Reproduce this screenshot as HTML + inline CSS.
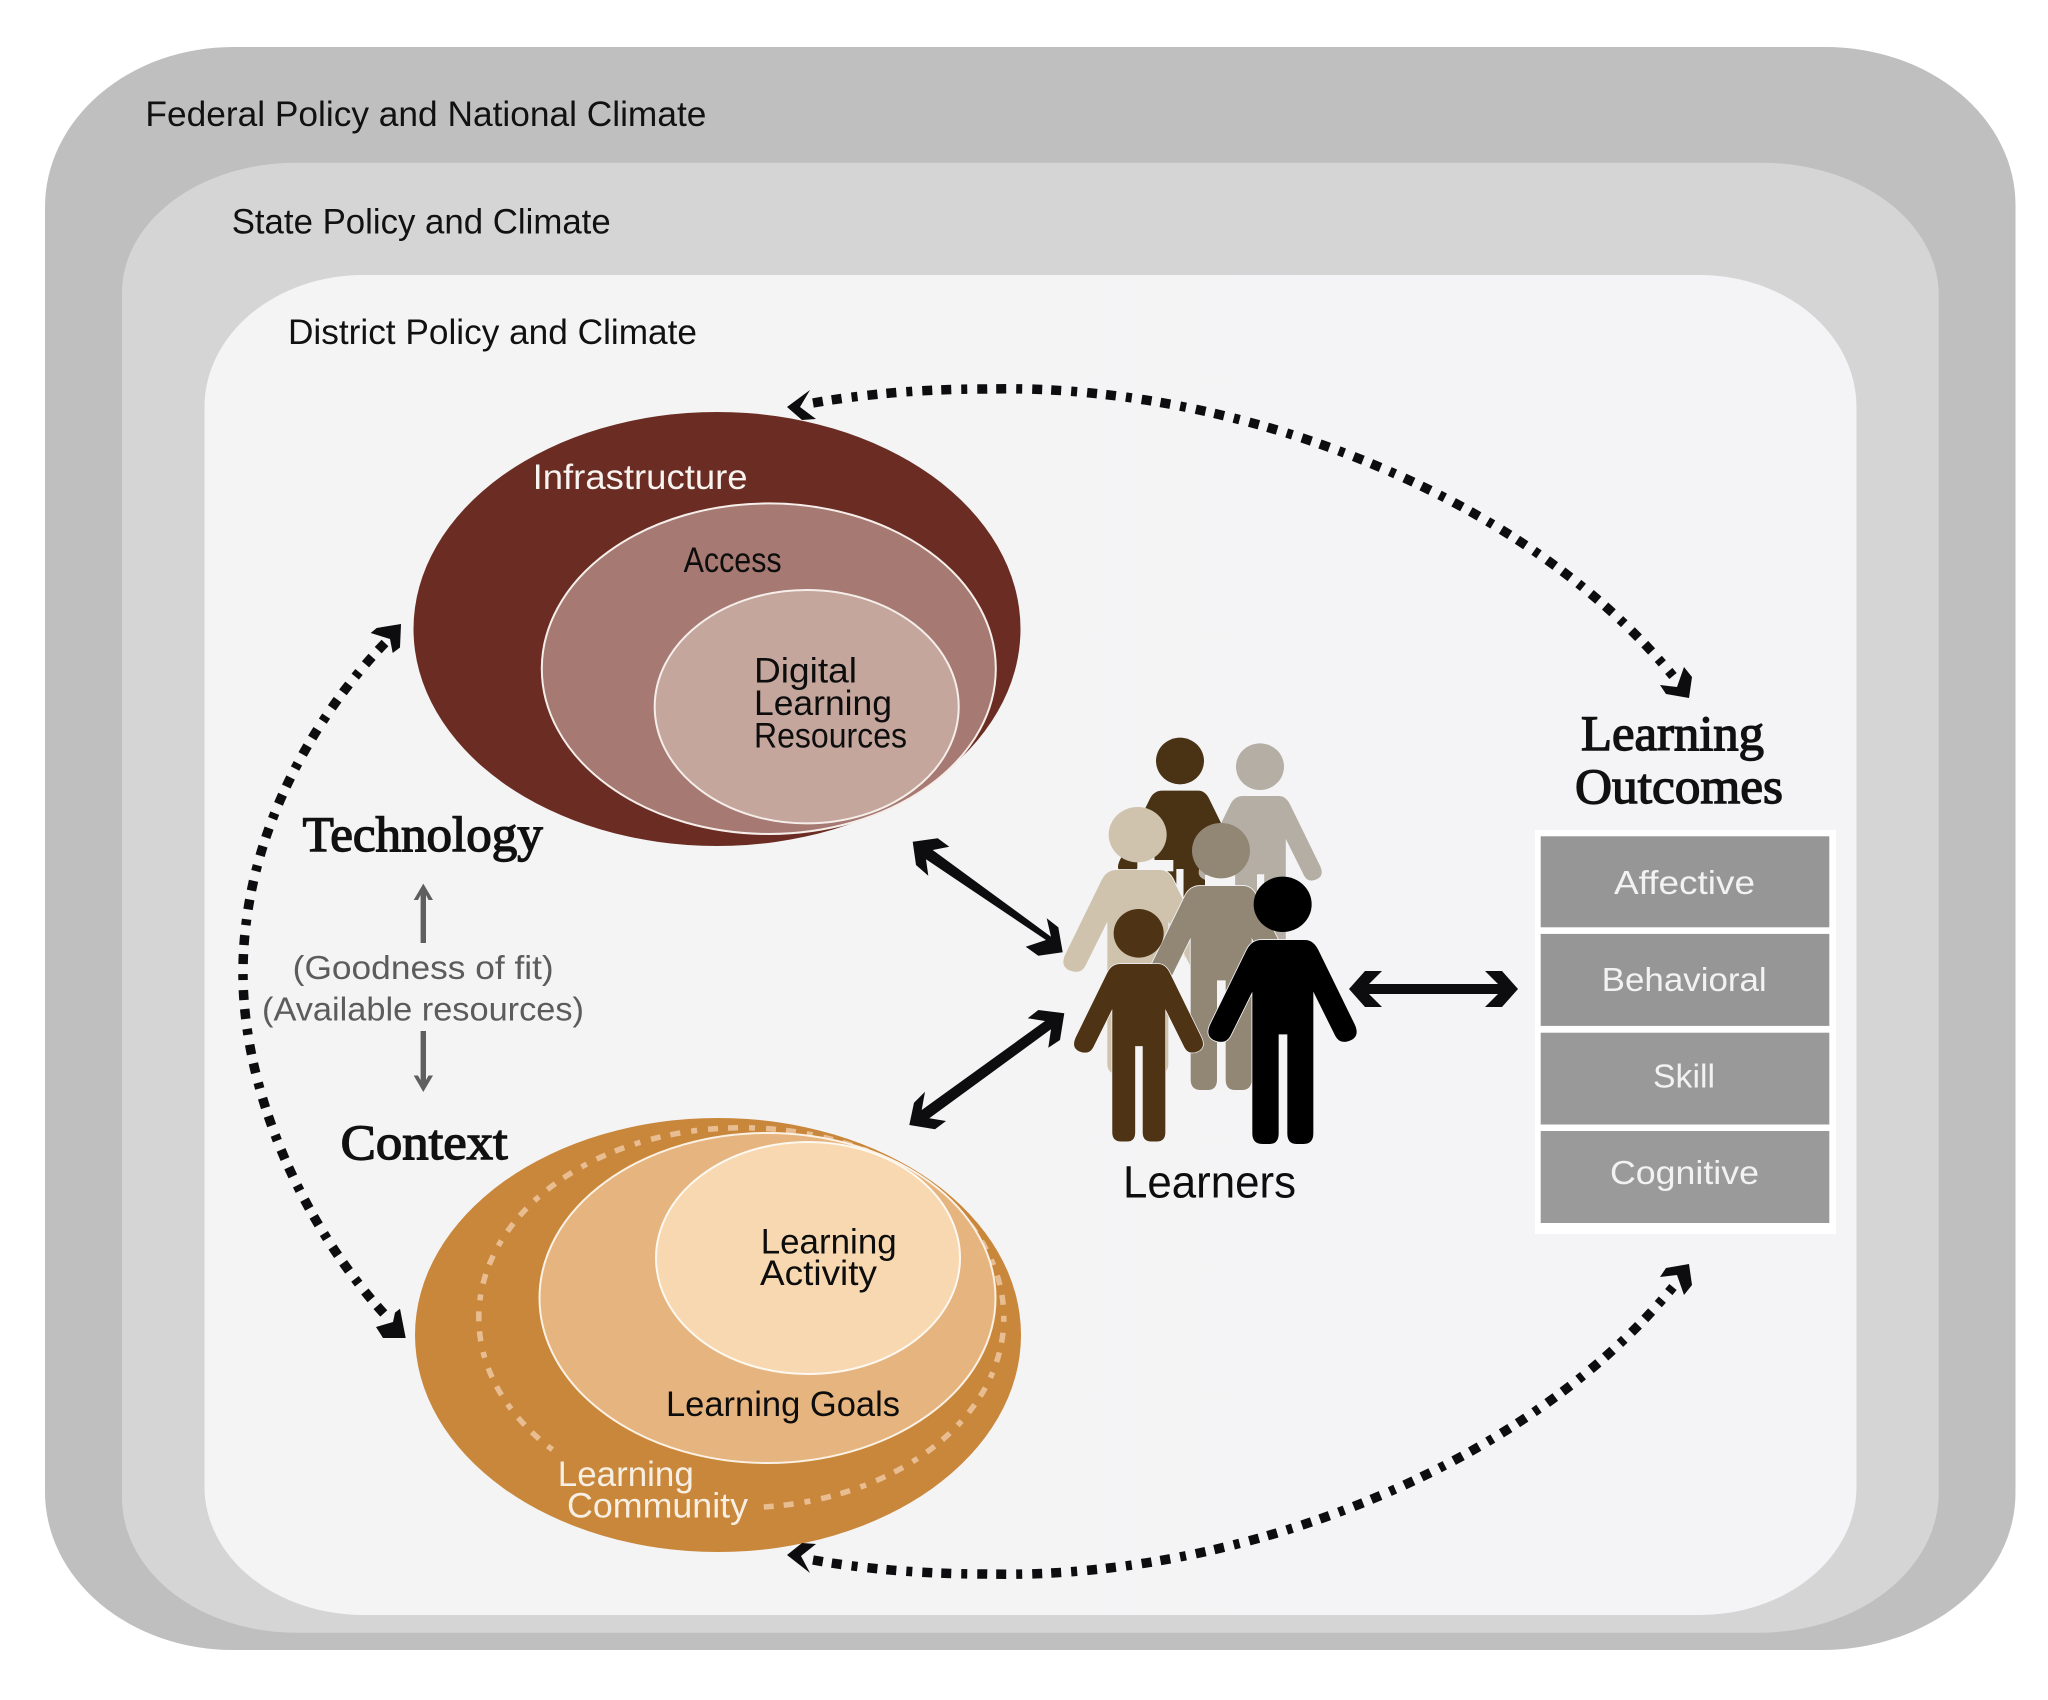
<!DOCTYPE html>
<html><head><meta charset="utf-8">
<style>
html,body{margin:0;padding:0;background:#fff}
svg{display:block}
.s{font-family:"Liberation Sans",sans-serif;font-size:35px}
.t{font-family:"Liberation Sans",sans-serif;font-size:33.5px}
.r{font-family:"Liberation Serif",serif;font-weight:400;stroke:#111;stroke-width:1.4px}
</style></head><body>
<svg xmlns="http://www.w3.org/2000/svg" width="2048" height="1700" viewBox="0 0 2048 1700">
<defs>
<path id="p" d="M-63,0 L67,0 Q92,0 107,30 L217,255 Q232,290 202,302 Q172,314 158,288 L92,155 L92,580 Q92,612 62,612 L42,612 Q14,612 14,580 L14,283 L-12,283 L-12,580 Q-12,612 -40,612 L-60,612 Q-91,612 -91,580 L-91,155 L-157,288 Q-171,314 -203,302 Q-233,290 -218,255 L-108,30 Q-93,0 -63,0 Z"/>
<linearGradient id="g" x1="0" x2="1" y1="0" y2="0"><stop offset="0" stop-color="#f4f4f4"/><stop offset="1" stop-color="#f4f3f6"/></linearGradient>
</defs>
<rect width="2048" height="1700" fill="#fff"/>

<!-- nested panels -->
<path d="M233,47 H1825 A190,158 0 0 1 2015.5,205 V1493 A194,157 0 0 1 1821.5,1650 H233 A188,158 0 0 1 45,1492 V207 A188,160 0 0 1 233,47 Z" fill="#bfbfc0"/>
<path d="M296,162.7 H1762 A177,132 0 0 1 1938.7,295 V1493 A180,140 0 0 1 1758,1632.7 H296 A174,135 0 0 1 122,1498 V293 A174,130 0 0 1 296,162.7 Z" fill="#d5d5d6"/>
<path d="M363.5,275 H1699 A157,132 0 0 1 1856.5,407 V1487 A157,128 0 0 1 1699,1615 H363.5 A159,128 0 0 1 204.5,1487 V407 A159,132 0 0 1 363.5,275 Z" fill="url(#g)"/>

<g fill="#111" class="s" transform="translate(0,.8)">
<text x="145.4" y="125" textLength="561" lengthAdjust="spacingAndGlyphs">Federal Policy and National Climate</text>
<text x="231.7" y="232.7" textLength="379" lengthAdjust="spacingAndGlyphs">State Policy and Climate</text>
<text x="288" y="343.3" textLength="409" lengthAdjust="spacingAndGlyphs">District Policy and Climate</text>
</g>

<!-- technology ellipses -->
<ellipse cx="717" cy="629" rx="303.5" ry="217" fill="#6b2d23"/>
<ellipse cx="768.8" cy="668.7" rx="227" ry="165.3" fill="#a67a72" stroke="#f6eeea" stroke-width="2"/>
<ellipse cx="806.7" cy="706.7" rx="152" ry="116.7" fill="#c4a69d" stroke="#f6eeea" stroke-width="2"/>
<g class="s" transform="translate(0,.8)">
<text x="532.6" y="488" fill="#f7f3f0" textLength="215" lengthAdjust="spacingAndGlyphs">Infrastructure</text>
<g fill="#0d0d0d">
<text x="683.6" y="571" textLength="98" lengthAdjust="spacingAndGlyphs">Access</text>
<text x="754" y="681.7" textLength="103" lengthAdjust="spacingAndGlyphs">Digital</text>
<text x="754" y="714" textLength="138" lengthAdjust="spacingAndGlyphs">Learning</text>
<text x="754" y="746.7" textLength="153" lengthAdjust="spacingAndGlyphs">Resources</text>
</g></g>

<!-- context ellipses -->
<ellipse cx="718" cy="1335" rx="303" ry="217" fill="#c9873b"/>
<path d="M763.8,1507 A262.5,190 0 1 0 557,1453" fill="none" stroke="#e9bd92" stroke-width="5.5" stroke-dasharray="10 10 10 11 6 11"/>
<ellipse cx="767.5" cy="1298" rx="228" ry="165" fill="#e6b47f" stroke="#fbf1e4" stroke-width="2"/>
<ellipse cx="808" cy="1258" rx="152" ry="116" fill="#f7d8b0" stroke="#fdf8f0" stroke-width="2"/>
<g class="s" transform="translate(0,.8)">
<g fill="#0d0d0d">
<text x="760.7" y="1252.7" textLength="136" lengthAdjust="spacingAndGlyphs">Learning</text>
<text x="760" y="1284.3" textLength="117" lengthAdjust="spacingAndGlyphs">Activity</text>
<text x="666" y="1415" textLength="234" lengthAdjust="spacingAndGlyphs">Learning Goals</text>
</g>
<g fill="#f8efe4">
<text x="557.8" y="1485" textLength="136" lengthAdjust="spacingAndGlyphs">Learning</text>
<text x="567" y="1516.7" textLength="181" lengthAdjust="spacingAndGlyphs">Community</text>
</g></g>

<!-- central labels -->
<g class="r" fill="#111" font-size="50">
<text x="302.7" y="851" textLength="240" lengthAdjust="spacingAndGlyphs">Technology</text>
<text x="340.7" y="1159" textLength="167" lengthAdjust="spacingAndGlyphs">Context</text>
<text x="1581" y="750" textLength="183" lengthAdjust="spacingAndGlyphs">Learning</text>
<text x="1575" y="803" textLength="208" lengthAdjust="spacingAndGlyphs">Outcomes</text>
</g>
<g class="t" fill="#5c5c5c">
<text x="292.7" y="979" textLength="261" lengthAdjust="spacingAndGlyphs">(Goodness of fit)</text>
<text x="262" y="1020.7" textLength="322" lengthAdjust="spacingAndGlyphs">(Available resources)</text>
</g>
<g fill="#5f5f5f">
<polygon points="423.3,883.6 433,900 428.5,900 426,895 426,943 420.6,943 420.6,895 418,900 413.7,900"/>
<polygon points="423.3,1092 433,1075.5 428.5,1075.5 426,1080 426,1031 420.6,1031 420.6,1080 418,1075.5 413.7,1075.5"/>
</g>

<!-- dotted connectors -->
<g fill="none" stroke="#0d0d0f" stroke-width="9.5" stroke-dasharray="10 9 10 10 6 10">
<path d="M813,403 C870,393 930,389 987,389 C1230,383 1520,490 1673,676"/>
<path d="M813,1560 C870,1570 930,1574 987,1574 C1230,1580 1520,1473 1673,1287"/>
<path d="M385,643 C320,710 243,830 243,973 C243,1100 310,1235 388,1318"/>
</g>
<g fill="#0d0d0f">
<polygon points="787,407 810,390 800,407 816,419 802,420"/>
<polygon points="1689,698 1666,694 1660,685 1677,687 1684,667 1692,677"/>
<polygon points="787,1555 802,1543 816,1544 801,1556 810,1573"/>
<polygon points="1689,1264 1666,1268 1660,1277 1677,1275 1684,1295 1692,1285"/>
<polygon points="401,624 376.7,628 370.7,633 390,639 392.7,653 400,647.5"/>
<polygon points="405.7,1338 400,1308.7 395,1312.6 393,1322 376,1327 383,1338"/>
<!-- solid double arrows -->
<polygon points="912.7,841.7 937.7,838.3 949.3,846.7 932.7,850 1051,936.7 1046.7,918.3 1058.3,927.3 1062.7,952.3 1038.3,955.7 1025.7,946.7 1046,940 926,859.3 928.3,875.7 916,865"/>
<polygon points="1064.3,1013.3 1038.3,1010 1027.7,1018.3 1045,1021 921.7,1110 925,1091.7 914,1102.7 909.3,1125 935,1129.3 946,1121 929.3,1118.3 1051,1029.3 1048.3,1047.7 1060,1040"/>
<polygon points="1349,989 1365,971 1382,971 1369,984 1498,984 1485,971 1502,971 1518,989 1502,1007 1485,1007 1498,994 1369,994 1382,1007 1365,1007"/>
</g>

<!-- learners -->
<g transform="translate(1040,720) scale(0.33333)">
<g fill="#4a3314">
<use href="#p" transform="translate(419,212) scale(.83)"/>
<ellipse cx="420" cy="123" rx="72" ry="70"/>
</g>
<g fill="#b5aea4">
<use href="#p" transform="translate(661,228) scale(.83)"/>
<ellipse cx="660" cy="140" rx="72" ry="70"/>
</g>
<g fill="#cfc3ae" stroke="#f4f4f5" stroke-width="5" paint-order="stroke">
<rect x="292" y="420" width="108" height="34" fill="#f4f4f5" stroke="none"/>
<use href="#p" transform="translate(293,450)"/>
<ellipse cx="293" cy="344" rx="87" ry="83" stroke="none"/>
</g>
<g fill="#928675" stroke="#f4f4f5" stroke-width="5" paint-order="stroke">
<rect x="495" y="465" width="90" height="36" fill="#f4f4f5" stroke="none"/>
<use href="#p" transform="translate(543,498)"/>
<ellipse cx="543" cy="392" rx="87" ry="83" stroke="none"/>
</g>
<g fill="#4e3314" stroke="#f4f4f5" stroke-width="5" paint-order="stroke">
<use href="#p" transform="translate(296,732) scale(.87)"/>
<ellipse cx="296" cy="640" rx="75" ry="73" stroke="none"/>
</g>
<g fill="#000" stroke="#f4f4f5" stroke-width="5" paint-order="stroke">
<use href="#p" transform="translate(728,660)"/>
<ellipse cx="728" cy="553" rx="87" ry="83" stroke="none"/>
</g>
</g>
<text class="s" x="1123" y="1197.5" fill="#0d0d0d" style="font-size:45px" textLength="173" lengthAdjust="spacingAndGlyphs">Learners</text>

<!-- outcomes -->
<rect x="1535" y="830" width="301" height="404" fill="#fff"/>
<rect x="1540.7" y="836.3" width="288.6" height="91" fill="#969696"/>
<rect x="1540.7" y="933.9" width="288.6" height="92" fill="#979697"/>
<rect x="1540.7" y="1032.7" width="288.6" height="91.8" fill="#9a999a"/>
<rect x="1540.7" y="1131" width="288.6" height="92" fill="#9b9a9b"/>
<g class="t" fill="#f2f2f2">
<text x="1614" y="894" textLength="141" lengthAdjust="spacingAndGlyphs">Affective</text>
<text x="1601.7" y="991" textLength="165" lengthAdjust="spacingAndGlyphs">Behavioral</text>
<text x="1653" y="1087.3" textLength="62" lengthAdjust="spacingAndGlyphs">Skill</text>
<text x="1610" y="1184" textLength="149" lengthAdjust="spacingAndGlyphs">Cognitive</text>
</g>
</svg>
</body></html>
